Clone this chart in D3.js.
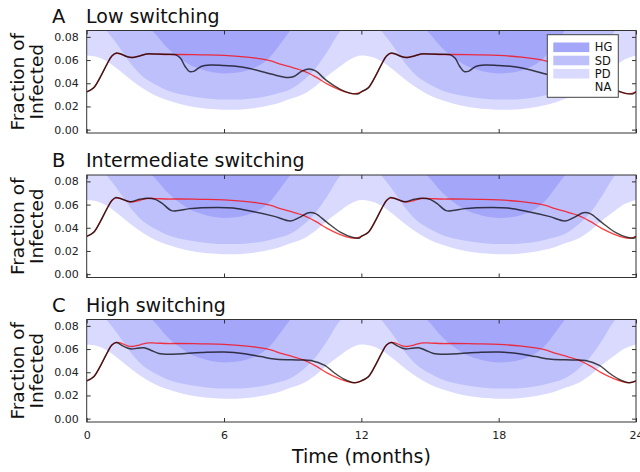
<!DOCTYPE html>
<html>
<head>
<meta charset="utf-8">
<script src="https://cdn.jsdelivr.net/npm/d3@7"></script>
<style>
  body { margin: 0; background: #fff; }
  svg { display: block; font-family: "DejaVu Sans", sans-serif; }
</style>
</head>
<body>
<svg id="chart" width="640" height="472"></svg>
<script>
// one seasonal cycle (months); the chart shows two identical years
const edgeMonths = [0, 0.5, 1, 1.5, 2, 2.5, 3, 3.5, 4, 4.5, 5, 5.5, 6, 6.5, 7, 7.5, 8, 8.5, 9, 9.5, 10, 10.5, 11, 11.5, 12];

// lower edges of the strategy regions
const naEdge = [0.064, 0.0625, 0.0575, 0.050, 0.042, 0.035, 0.0295, 0.0255, 0.0225, 0.0202, 0.0187, 0.0177, 0.0172, 0.0172, 0.0178, 0.019, 0.021, 0.0237, 0.0272, 0.031, 0.0375, 0.046, 0.0535, 0.0605, 0.064];
const sdEdge = [0.096, 0.093, 0.082, 0.069, 0.055, 0.045, 0.039, 0.034, 0.031, 0.029, 0.0275, 0.0265, 0.026, 0.026, 0.0265, 0.0275, 0.0295, 0.032, 0.036, 0.043, 0.053, 0.067, 0.083, 0.093, 0.096];
const hgEdge = [0.13, 0.128, 0.122, 0.113, 0.102, 0.092, 0.0825, 0.071, 0.0625, 0.056, 0.052, 0.0495, 0.0485, 0.049, 0.051, 0.055, 0.0625, 0.075, 0.088, 0.10, 0.11, 0.118, 0.124, 0.128, 0.13];

// red curve (same in every panel)
const redCurve = [[0, 0.0326], [0.3, 0.036], [0.6, 0.0455], [0.9, 0.057], [1.1, 0.0635], [1.3, 0.0658], [1.5, 0.0652], [1.75, 0.063], [2.0, 0.0622], [2.3, 0.0635], [2.6, 0.0652], [3.0, 0.0652], [3.5, 0.0648], [4.0, 0.0648], [5.0, 0.0645], [6.0, 0.064], [7.0, 0.0625], [7.5, 0.0613], [8.0, 0.0595], [8.5, 0.0563], [9.0, 0.0535], [9.5, 0.0505], [10.0, 0.0455], [10.5, 0.0395], [11.0, 0.0348], [11.4, 0.032], [11.75, 0.031], [12.0, 0.0326]];

// black curves, one per switching rate
const lowCurve = [[0, 0.0326], [0.3, 0.036], [0.6, 0.0455], [0.9, 0.057], [1.1, 0.0635], [1.3, 0.066], [1.5, 0.0652], [1.75, 0.063], [2.0, 0.0622], [2.3, 0.0635], [2.6, 0.0652], [3.0, 0.0652], [3.5, 0.065], [3.9, 0.0645], [4.1, 0.0615], [4.3, 0.0545], [4.5, 0.050], [4.7, 0.0505], [5.0, 0.0545], [5.4, 0.0558], [6.0, 0.0553], [6.6, 0.0545], [7.4, 0.0515], [8.1, 0.0477], [8.8, 0.0449], [9.05, 0.0458], [9.4, 0.0505], [9.72, 0.0524], [10.0, 0.0506], [10.5, 0.042], [11.1, 0.0345], [11.5, 0.0315], [11.85, 0.0308], [12.0, 0.0326]];
const midCurve = [[0, 0.0326], [0.3, 0.036], [0.6, 0.0455], [0.9, 0.057], [1.1, 0.0635], [1.25, 0.066], [1.5, 0.065], [1.9, 0.0625], [2.3, 0.0645], [2.65, 0.0655], [3.0, 0.0645], [3.3, 0.061], [3.7, 0.0548], [4.0, 0.0548], [4.5, 0.0565], [5.7, 0.0575], [6.4, 0.057], [7.3, 0.0538], [8.2, 0.0498], [8.9, 0.0458], [9.3, 0.049], [9.7, 0.053], [10.0, 0.0522], [10.5, 0.0446], [11.1, 0.036], [11.6, 0.0318], [11.9, 0.031], [12.0, 0.0326]];
const highCurve = [[0, 0.0326], [0.3, 0.036], [0.6, 0.0455], [0.9, 0.057], [1.1, 0.0635], [1.3, 0.0656], [1.6, 0.0625], [1.9, 0.0602], [2.2, 0.0606], [2.5, 0.0612], [2.8, 0.059], [3.15, 0.0562], [3.7, 0.0556], [5.0, 0.057], [6.0, 0.0575], [6.9, 0.056], [7.6, 0.0535], [8.3, 0.0512], [9.2, 0.0506], [9.8, 0.0502], [10.4, 0.046], [10.8, 0.0398], [11.25, 0.034], [11.7, 0.031], [12.0, 0.0326]];

const panelLetters = ["A", "B", "C"];
const panelTitles = ["Low switching", "Intermediate switching", "High switching"];
const panelCurves = [lowCurve, midCurve, highCurve];

const xTicks = [0, 6, 12, 18, 24];
const yTicks = [0.00, 0.02, 0.04, 0.06, 0.08];
const legendLabels = ["HG", "SD", "PD", "NA"];
const years = [0, 12];

const bandColors = { PD: "#d9dafd", SD: "#bec0fc", HG: "#a4a6fa", NA: "#ffffff" };

const svg = d3.select("#chart");
const left = 86.7, right = 636, panelH = 102.5;
const panelTops = [30.5, 175, 319.5];

const x = d3.scaleLinear().domain([0, 24]).range([left, right]);

// repeat one cycle over both years
function twoYears(points) {
  return years.flatMap((off, k) => points.slice(k ? 1 : 0).map(([t, v]) => [t + off, v]));
}
const edgePoints = arr => twoYears(edgeMonths.map((t, i) => [t, arr[i]]));

panelTops.forEach((top, p) => {
  const y = d3.scaleLinear().domain([-0.0029, 0.0855]).range([top + panelH, top]);
  const g = svg.append("g");

  g.append("clipPath").attr("id", "clip" + p)
    .append("rect").attr("x", left).attr("y", top).attr("width", right - left).attr("height", panelH);

  const plot = g.append("g").attr("clip-path", `url(#clip${p})`);

  // strategy regions: everything above each edge
  const band = d3.area().x(d => x(d[0])).y0(d => y(d[1])).y1(y(0.2)).curve(d3.curveMonotoneX);
  [["PD", naEdge], ["SD", sdEdge], ["HG", hgEdge]].forEach(([key, arr]) => {
    plot.append("path").attr("d", band(edgePoints(arr))).attr("fill", bandColors[key]);
  });

  const line = d3.line().x(d => x(d[0])).y(d => y(d[1])).curve(d3.curveCatmullRom.alpha(0.5));
  plot.append("path").attr("d", line(twoYears(redCurve)))
    .attr("fill", "none").attr("stroke", "#ff0000").attr("stroke-opacity", 0.75).attr("stroke-width", 1.3);
  plot.append("path").attr("d", line(twoYears(panelCurves[p])))
    .attr("fill", "none").attr("stroke", "#000").attr("stroke-opacity", 0.72).attr("stroke-width", 1.5);

  // inward ticks on all four sides
  const axisL = d3.axisLeft(y).tickValues(yTicks).tickSizeInner(-4).tickSizeOuter(0).tickPadding(8).tickFormat(d3.format(".2f"));
  const axisR = d3.axisRight(y).tickValues(yTicks).tickSizeInner(-4).tickSizeOuter(0).tickFormat("");
  const axisB = d3.axisBottom(x).tickValues(xTicks).tickSizeInner(-4).tickSizeOuter(0).tickPadding(9).tickFormat(p === 2 ? d3.format("d") : "");
  const axisT = d3.axisTop(x).tickValues(xTicks).tickSizeInner(-4).tickSizeOuter(0).tickFormat("");

  g.append("g").attr("transform", `translate(${left},0)`).call(axisL);
  g.append("g").attr("transform", `translate(${right},0)`).call(axisR);
  g.append("g").attr("transform", `translate(0,${top + panelH})`).call(axisB);
  g.append("g").attr("transform", `translate(0,${top})`).call(axisT);
  g.selectAll(".domain").remove();
  g.selectAll(".tick line").attr("stroke", "#333");
  g.selectAll(".tick text").attr("font-size", 11).attr("fill", "#222").attr("font-family", "DejaVu Sans");

  g.append("rect").attr("x", left).attr("y", top).attr("width", right - left).attr("height", panelH)
    .attr("fill", "none").attr("stroke", "#333").attr("stroke-width", 1);

  // panel letter and title
  g.append("text").attr("x", 52).attr("y", top - 8).attr("font-size", 19.5).attr("fill", "#111").text(panelLetters[p]);
  g.append("text").attr("x", 86).attr("y", top - 8).attr("font-size", 19).attr("fill", "#111").text(panelTitles[p]);

  // y label on two lines
  const cy = top + panelH / 2;
  const yl = g.append("text").attr("transform", `translate(24,${cy}) rotate(-90)`)
    .attr("text-anchor", "middle").attr("font-size", 18.5).attr("fill", "#111");
  yl.append("tspan").attr("x", 0).attr("dy", 0).text("Fraction of");
  yl.append("tspan").attr("x", 0).attr("dy", 18.5).text("Infected");
});

svg.append("text").attr("x", (left + right) / 2).attr("y", 463).attr("text-anchor", "middle")
  .attr("font-size", 19).attr("fill", "#111").text("Time (months)");

// legend in panel A
const lg = svg.append("g").attr("transform", "translate(547.3,34.7)");
lg.append("rect").attr("width", 71).attr("height", 62.6).attr("fill", "#fff").attr("stroke", "#444").attr("stroke-width", 1);
legendLabels.forEach((lab, i) => {
  lg.append("rect").attr("x", 6).attr("y", 7.8 + i * 13.2).attr("width", 36).attr("height", 9.6).attr("fill", bandColors[lab]);
  lg.append("text").attr("x", 47.5).attr("y", 12.6 + i * 13.2).attr("dy", "0.36em")
    .attr("font-size", 11.5).attr("fill", "#111").text(lab);
});
</script>
</body>
</html>
